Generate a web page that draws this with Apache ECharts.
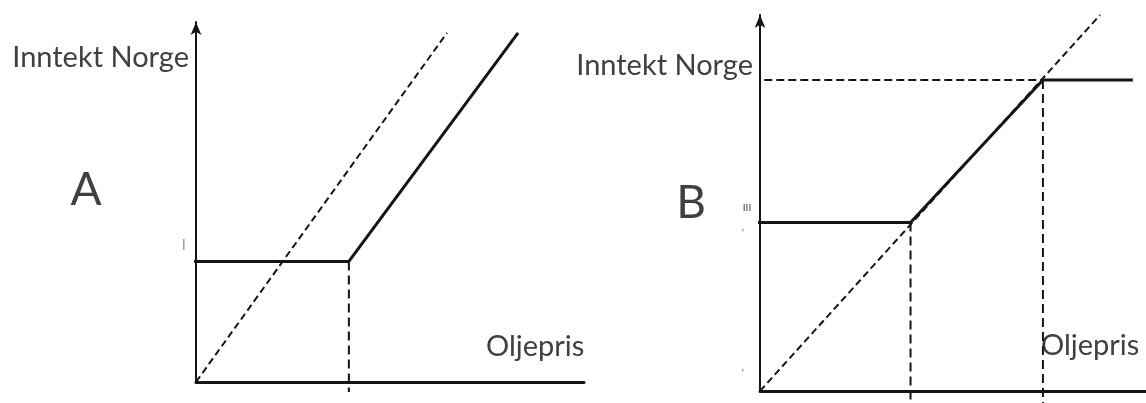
<!DOCTYPE html>
<html style="height: 100%">
<head>
    <meta charset="utf-8">
    <title>Inntekt Norge</title>
    <script src="https://cdn.jsdelivr.net/npm/echarts@6/dist/echarts.min.js"></script>
</head>
<body style="height: 100%; margin: 0; background: #fff">
<div id="main" style="width: 1146px; height: 403px"></div>
<script type="text/javascript">

    // figur A: inntekt med gulv (x = oljepris, y = inntekt)
    var aSolid = [[-0.23, 3.35], [3.94, 3.35], [8.3, 9.7]];
    var aDiag = [[0, 0], [6.47, 9.7]];
    var aDrop = [[3.94, 3.35], [3.94, -0.28]];

    // figur B: gulv og tak
    var bSolid = [[-0.2, 4.48], [3.9, 4.48], [7.33, 8.27], [9.66, 8.27]];
    var bDiag = [[0, 0], [8.81, 10]];
    var bCap = [[-0.2, 8.27], [7.33, 8.27]];
    var bDrop1 = [[3.9, 4.48], [3.9, -0.32]];
    var bDrop2 = [[7.33, 8.27], [7.33, -0.32]];

    var ink = '#151515';
    var txt = '#404040';
    var font = 'Lato, "Open Sans", sans-serif';

    function axis(grid, pos, width, arrow) {
        return {
            type: 'value', min: 0, max: 10,
            gridIndex: grid,
            position: pos,
            axisLine: {
                show: true, onZero: false,
                symbol: arrow ? ['none', 'arrow'] : ['none', 'none'],
                symbolSize: [8, 13],
                lineStyle: { color: ink, width: width }
            },
            axisTick: { show: false },
            axisLabel: { show: false },
            splitLine: { show: false }
        };
    }

    function line(grid, data, width, dash) {
        return {
            type: 'line',
            xAxisIndex: grid, yAxisIndex: grid,
            data: data,
            symbol: 'none',
            clip: false,
            silent: true,
            lineStyle: { color: ink, width: width, type: dash || 'solid' }
        };
    }

    function label(text, x, y, size, align) {
        return {
            type: 'text', x: x, y: y, silent: true,
            style: {
                text: text, fill: txt, align: align || 'left', verticalAlign: 'middle',
                font: size + 'px ' + font
            }
        };
    }

    var myChart = echarts.init(document.getElementById('main'));

    var option = {
        animation: false,
        backgroundColor: '#fff',
        grid: [
            { left: 196, top: 22, width: 388, height: 360 },
            { left: 760, top: 15, width: 386, height: 376 }
        ],
        xAxis: [axis(0, 'bottom', 3, false), axis(1, 'bottom', 3, false)],
        yAxis: [axis(0, 'left', 2, true), axis(1, 'left', 2, true)],
        series: [
            line(0, aDiag, 2, [7, 4]),
            line(0, aDrop, 2, [9, 5]),
            line(0, aSolid, 3),
            line(1, bDiag, 2, [7, 4]),
            line(1, bCap, 2, [8, 4]),
            line(1, bDrop1, 2, [9, 5]),
            line(1, bDrop2, 2, [9, 5]),
            line(1, bSolid, 3)
        ],
        graphic: [
            label('Inntekt Norge', 189, 58, 29, 'right'),
            label('A', 86, 190, 46, 'center'),
            label('Oljepris', 486, 347, 29),
            label('Inntekt Norge', 753, 66, 29, 'right'),
            label('B', 691, 203, 46, 'center'),
            label('Oljepris', 1041, 346, 29),
            label('|', 184, 244, 11, 'center'),
            label('III', 747, 208, 10, 'center'),
            label('\'', 743, 233, 9, 'center'),
            label('\'', 743, 373, 9, 'center')
        ]
    };

    myChart.setOption(option);
</script>
</body>
</html>
